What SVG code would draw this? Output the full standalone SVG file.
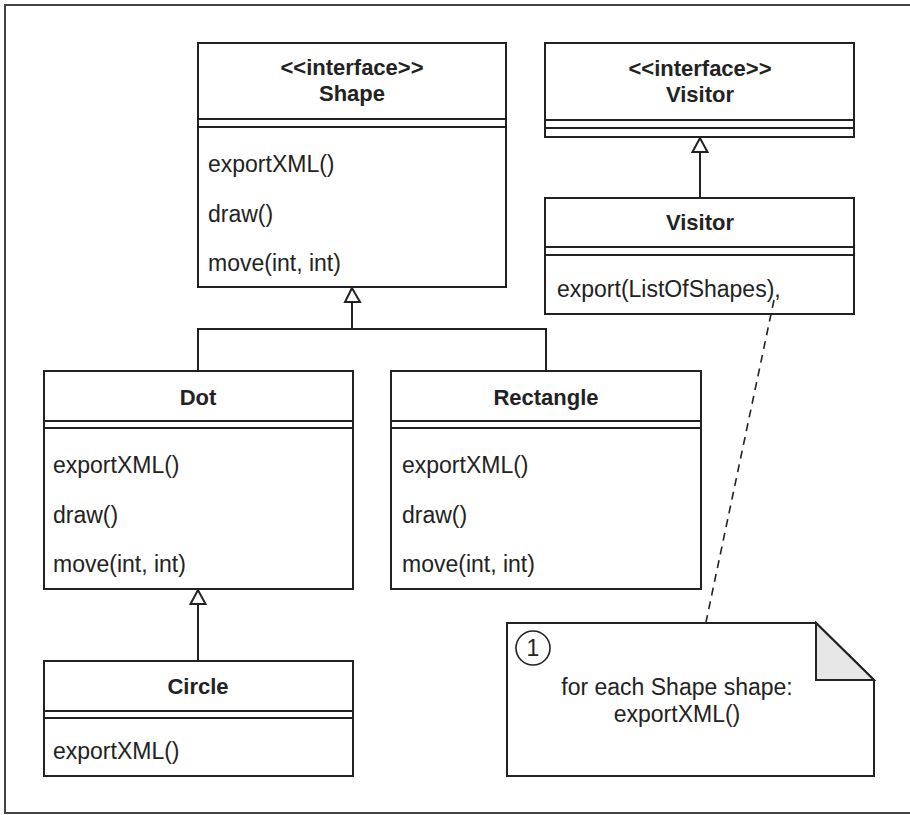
<svg xmlns="http://www.w3.org/2000/svg" width="910" height="815" viewBox="0 0 910 815">
  <style>
    .box { fill: #ffffff; stroke: #222222; stroke-width: 2; }
    .sep { stroke: #222222; stroke-width: 2; fill: none; }
    .edge { stroke: #222222; stroke-width: 2; fill: none; }
    .dash { stroke: #222222; stroke-width: 1.6; fill: none; stroke-dasharray: 8 6; }
    .head { fill: #ffffff; stroke: #222222; stroke-width: 2; stroke-linejoin: miter; }
    .t { font-family: "Liberation Sans", Arial, sans-serif; font-size: 23px; fill: #222222; }
    .b { font-family: "Liberation Sans", Arial, sans-serif; font-size: 22px; font-weight: bold; fill: #222222; text-anchor: middle; }
    .c { text-anchor: middle; }
  </style>

  <!-- outer frame -->
  <rect x="5" y="5" width="920" height="808" fill="#ffffff" stroke="#444444" stroke-width="2"/>

  <!-- interface Shape -->
  <g id="shape-interface">
    <rect class="box" x="198" y="43" width="308" height="244"/>
    <line class="sep" x1="198" y1="119" x2="506" y2="119"/>
    <line class="sep" x1="198" y1="127" x2="506" y2="127"/>
    <text class="b" x="352" y="75">&lt;&lt;interface&gt;&gt;</text>
    <text class="b" x="352" y="101">Shape</text>
    <text class="t" x="208" y="172">exportXML()</text>
    <text class="t" x="208" y="222">draw()</text>
    <text class="t" x="208" y="271">move(int, int)</text>
  </g>

  <!-- interface Visitor -->
  <g id="visitor-interface">
    <rect class="box" x="545" y="43" width="309" height="94"/>
    <line class="sep" x1="545" y1="120" x2="854" y2="120"/>
    <line class="sep" x1="545" y1="128" x2="854" y2="128"/>
    <text class="b" x="700" y="76">&lt;&lt;interface&gt;&gt;</text>
    <text class="b" x="700" y="102">Visitor</text>
  </g>

  <!-- class Visitor -->
  <g id="visitor-class">
    <rect class="box" x="545" y="198" width="309" height="116"/>
    <line class="sep" x1="545" y1="247" x2="854" y2="247"/>
    <line class="sep" x1="545" y1="255" x2="854" y2="255"/>
    <text class="b" x="700" y="230">Visitor</text>
    <text class="t" x="557" y="297">export(ListOfShapes),</text>
  </g>

  <!-- class Dot -->
  <g id="dot">
    <rect class="box" x="44" y="371" width="309" height="218"/>
    <line class="sep" x1="44" y1="421" x2="353" y2="421"/>
    <line class="sep" x1="44" y1="428" x2="353" y2="428"/>
    <text class="b" x="198" y="405">Dot</text>
    <text class="t" x="53" y="473">exportXML()</text>
    <text class="t" x="53" y="523">draw()</text>
    <text class="t" x="53" y="572">move(int, int)</text>
  </g>

  <!-- class Rectangle -->
  <g id="rectangle">
    <rect class="box" x="391" y="371" width="310" height="218"/>
    <line class="sep" x1="391" y1="421" x2="701" y2="421"/>
    <line class="sep" x1="391" y1="428" x2="701" y2="428"/>
    <text class="b" x="546" y="405">Rectangle</text>
    <text class="t" x="402" y="473">exportXML()</text>
    <text class="t" x="402" y="523">draw()</text>
    <text class="t" x="402" y="572">move(int, int)</text>
  </g>

  <!-- class Circle -->
  <g id="circle">
    <rect class="box" x="44" y="661" width="309" height="115"/>
    <line class="sep" x1="44" y1="711" x2="353" y2="711"/>
    <line class="sep" x1="44" y1="718" x2="353" y2="718"/>
    <text class="b" x="198" y="694">Circle</text>
    <text class="t" x="53" y="759">exportXML()</text>
  </g>

  <!-- note -->
  <g id="note">
    <path class="box" d="M507,623 H816 L874,680 V776 H507 Z"/>
    <path d="M816,623 V680 H874 Z" fill="#e6e6e6" stroke="#222222" stroke-width="2" stroke-linejoin="miter"/>
    <circle cx="533" cy="648" r="17" fill="none" stroke="#222222" stroke-width="1.6"/>
    <text class="t c" x="533" y="656">1</text>
    <text class="t c" x="677" y="695">for each Shape shape:</text>
    <text class="t c" x="677" y="722">exportXML()</text>
  </g>

  <!-- connectors -->
  <g id="connectors">
    <!-- Dot / Rectangle realise Shape -->
    <polyline class="edge" points="198,371 198,329 546,329 546,371"/>
    <line class="edge" x1="352" y1="329" x2="352" y2="302"/>
    <polygon class="head" points="352,288 345,302 360,302"/>
    <!-- Visitor realises interface Visitor -->
    <line class="edge" x1="700" y1="198" x2="700" y2="152"/>
    <polygon class="head" points="700,138 692.5,152 707.5,152"/>
    <!-- Circle extends Dot -->
    <line class="edge" x1="198" y1="661" x2="198" y2="604"/>
    <polygon class="head" points="198,590 190.5,604 205.5,604"/>
    <!-- note anchor -->
    <line class="dash" x1="774" y1="300" x2="706" y2="622"/>
  </g>
</svg>
